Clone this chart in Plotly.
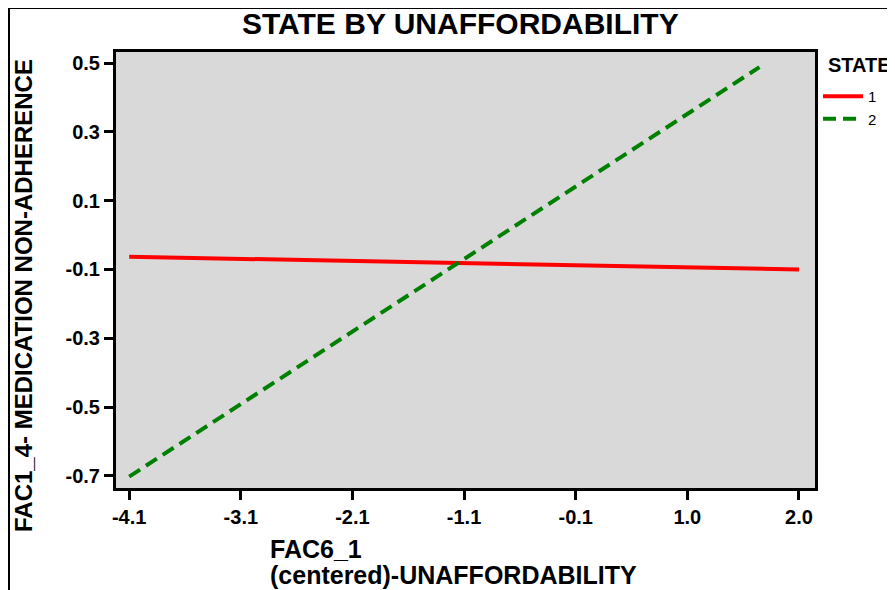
import plotly.graph_objects as go

# Data
state1_x = [-4.1, 2.0]
state1_y = [-0.063, -0.100]
state2_x = [-4.1, 1.64]
state2_y = [-0.702, 0.488]

x_tick_vals = [-4.1, -3.083, -2.067, -1.05, -0.033, 0.983, 2.0]
x_tick_text = ["-4.1", "-3.1", "-2.1", "-1.1", "-0.1", "1.0", "2.0"]
y_tick_vals = [0.5, 0.3, 0.1, -0.1, -0.3, -0.5, -0.7]
y_tick_text = ["0.5", "0.3", "0.1", "-0.1", "-0.3", "-0.5", "-0.7"]

FONT = "Arial, Liberation Sans, sans-serif"

OFF = 8  # page body margin offset
W, H = 895 - OFF, 590 - OFF
L, R, T, B = 116 - OFF, 815 - OFF, 52 - OFF, 488 - OFF


def px(x):
    return (x - OFF - L) / (R - L)


def py(y):
    return (B - (y - OFF)) / (B - T)


fig = go.Figure()
fig.add_trace(go.Scatter(x=state1_x, y=state1_y, mode="lines", name="1",
                         line=dict(color="#FF0000", width=4)))
fig.add_trace(go.Scatter(x=state2_x, y=state2_y, mode="lines", name="2",
                         line=dict(color="#008000", width=4, dash="13px,7px")))

fig.update_layout(
    width=W, height=H,
    margin=dict(l=L, r=W - R, t=T, b=H - B, pad=0),
    paper_bgcolor="white",
    plot_bgcolor="#D9D9D9",
    font=dict(family=FONT, color="black"),
    showlegend=True,
    legend=dict(
        x=px(818), y=py(80), xanchor="left", yanchor="top",
        font=dict(size=15, family=FONT),
        bgcolor="rgba(0,0,0,0)", itemwidth=40, tracegroupgap=0,
    ),
    xaxis=dict(
        range=[-4.22, 2.146],
        tickvals=x_tick_vals, ticktext=x_tick_text,
        tickfont=dict(size=20, family=FONT, weight="bold"),
        showgrid=False, zeroline=False,
        showline=True, linewidth=3, linecolor="black", mirror=True,
        ticks="outside", ticklen=9, tickwidth=3, tickcolor="black",
    ),
    yaxis=dict(
        range=[-0.735, 0.532],
        tickvals=y_tick_vals, ticktext=y_tick_text,
        tickfont=dict(size=20, family=FONT, weight="bold"),
        showgrid=False, zeroline=False,
        showline=True, linewidth=3, linecolor="black", mirror=True,
        ticks="outside", ticklen=9, tickwidth=3, tickcolor="black",
    ),
    annotations=[
        dict(text="<b>STATE BY UNAFFORDABILITY</b>", xref="paper", yref="paper",
             x=px(460), y=py(23), xanchor="center", yanchor="middle",
             showarrow=False, font=dict(size=30, family=FONT)),
        dict(text="<b>FAC1_4- MEDICATION NON-ADHERENCE</b>", xref="paper", yref="paper",
             x=px(23), y=py(296), xanchor="center", yanchor="middle", textangle=-90,
             showarrow=False, font=dict(size=24, family=FONT)),
        dict(text="<b>FAC6_1</b>", xref="paper", yref="paper",
             x=px(268), y=py(549), xanchor="left", yanchor="middle", align="left",
             showarrow=False, font=dict(size=25, family=FONT)),
        dict(text="<b>(centered)-UNAFFORDABILITY</b>", xref="paper", yref="paper",
             x=px(268), y=py(575), xanchor="left", yanchor="middle", align="left",
             showarrow=False, font=dict(size=25, family=FONT)),
        dict(text="<b>STATE</b>", xref="paper", yref="paper",
             x=px(826), y=py(65), xanchor="left", yanchor="middle",
             showarrow=False, font=dict(size=20, family=FONT)),
    ],
    shapes=[
        dict(type="line", xref="paper", yref="paper",
             x0=px(9), x1=px(900), y0=py(8), y1=py(8),
             line=dict(color="black", width=2)),
        dict(type="line", xref="paper", yref="paper",
             x0=px(9), x1=px(9), y0=py(8), y1=py(600),
             line=dict(color="black", width=2)),
    ],
)

fig.write_html("out.html")
